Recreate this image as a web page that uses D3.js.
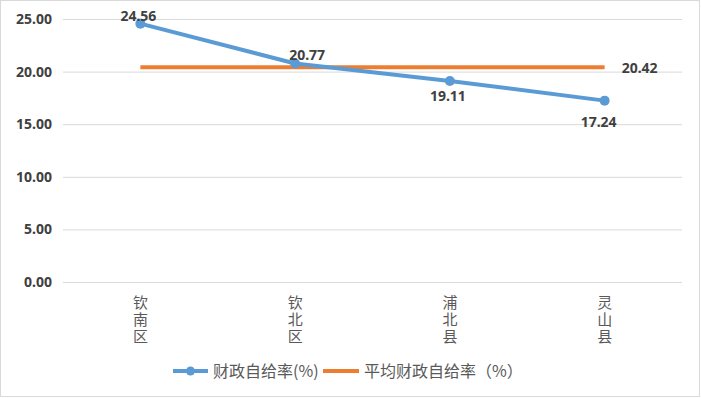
<!DOCTYPE html>
<html>
<head>
<meta charset="utf-8">
<script src="https://cdn.jsdelivr.net/npm/d3@7"></script>
<style>
  body { margin: 0; background: #fff; }
  text { font-family: "Noto Sans CJK SC", "Noto Sans", sans-serif; }
</style>
</head>
<body>
<div id="chart"></div>
<script>
// data
var categories = ["钦南区", "钦北区", "浦北县", "灵山县"];
var selfRate = [24.56, 20.77, 19.11, 17.24];
var avgRate = [20.42, 20.42, 20.42, 20.42];
var yTicks = [0, 5, 10, 15, 20, 25];
var seriesNames = ["财政自给率(%)", "平均财政自给率（%）"];

// label nudges (px) so the numbers sit like the original
var selfLabelOffset = [[-2, -8], [12, -8], [-2, 15], [-6, 21]];

var width = 701, height = 398;
var margin = {left: 63, right: 19, top: 19, bottom: 116};
var blue = "#5b9bd5", orange = "#ed7d31";
var numFont = "'Noto Sans', sans-serif";

var svg = d3.select("#chart").append("svg")
  .attr("width", width)
  .attr("height", height);

// outer frame
svg.append("rect")
  .attr("x", 0.5).attr("y", 0.5)
  .attr("width", width - 2).attr("height", height - 2)
  .attr("fill", "#fff")
  .attr("stroke", "#d9d9d9");

var x = d3.scaleBand()
  .domain(categories)
  .range([margin.left, width - margin.right]);

var y = d3.scaleLinear()
  .domain([0, 25])
  .range([282, margin.top]);

// gridlines + y labels
var yAxis = d3.axisLeft(y)
  .tickValues(yTicks)
  .tickSize(-(width - margin.right - margin.left))
  .tickFormat(d3.format(".2f"));

var gy = svg.append("g")
  .attr("transform", "translate(" + margin.left + ",0)")
  .call(yAxis);
gy.select(".domain").remove();
gy.selectAll(".tick line").attr("stroke", "#d9d9d9").attr("stroke-width", 1);
gy.selectAll(".tick text")
  .attr("x", -11)
  .attr("fill", "#404040")
  .style("font-size", "14px")
  .style("font-weight", "bold")
  .style("font-family", numFont);

// x labels, set vertically (one text per category)
svg.append("g").selectAll("text")
  .data(categories)
  .enter().append("text")
  .attr("x", function(d){ return x(d) + x.bandwidth() / 2; })
  .attr("y", 295)
  .style("writing-mode", "vertical-rl")
  .style("text-orientation", "upright")
  .style("letter-spacing", "2px")
  .attr("fill", "#595959")
  .style("font-size", "15px")
  .text(function(d){ return d; });

var cx = function(d, i){ return x(categories[i]) + x.bandwidth() / 2; };

// average line
svg.append("path")
  .datum(avgRate)
  .attr("fill", "none")
  .attr("stroke", orange)
  .attr("stroke-width", 4)
  .attr("d", d3.line().x(cx).y(function(d){ return y(d); }));

// self-sufficiency line
svg.append("path")
  .datum(selfRate)
  .attr("fill", "none")
  .attr("stroke", blue)
  .attr("stroke-width", 4)
  .attr("stroke-linejoin", "round")
  .attr("d", d3.line().x(cx).y(function(d){ return y(d); }));

svg.selectAll(".dot")
  .data(selfRate)
  .enter().append("circle")
  .attr("class", "dot")
  .attr("cx", cx)
  .attr("cy", function(d){ return y(d); })
  .attr("r", 5)
  .attr("fill", blue);

// value labels
svg.selectAll(".lbl")
  .data(selfRate)
  .enter().append("text")
  .attr("class", "lbl")
  .attr("x", function(d, i){ return cx(d, i) + selfLabelOffset[i][0]; })
  .attr("y", function(d, i){ return y(d) + selfLabelOffset[i][1]; })
  .attr("dy", "0.35em")
  .attr("text-anchor", "middle")
  .attr("fill", "#404040")
  .style("font-size", "14px")
  .style("font-weight", "bold")
  .style("font-family", numFont)
  .text(function(d){ return d.toFixed(2); });

var lastAvg = avgRate.length - 1;
svg.append("text")
  .attr("x", cx(avgRate[lastAvg], lastAvg) + 35)
  .attr("y", y(avgRate[lastAvg]) + 1)
  .attr("dy", "0.35em")
  .attr("text-anchor", "middle")
  .attr("fill", "#404040")
  .style("font-size", "14px")
  .style("font-weight", "bold")
  .style("font-family", numFont)
  .text(avgRate[lastAvg].toFixed(2));

// legend
var legend = svg.append("g").attr("transform", "translate(0,371)");
var lg1 = legend.append("g").attr("transform", "translate(173,0)");
lg1.append("line").attr("x1", 0).attr("x2", 35).attr("stroke", blue).attr("stroke-width", 4);
lg1.append("circle").attr("cx", 17.5).attr("r", 4.5).attr("fill", blue);
lg1.append("text").attr("x", 40).attr("dy", "0.35em")
  .attr("fill", "#595959").style("font-size", "16px").text(seriesNames[0]);

var lg2 = legend.append("g").attr("transform", "translate(323,0)");
lg2.append("line").attr("x1", 0).attr("x2", 36).attr("stroke", orange).attr("stroke-width", 4);
lg2.append("text").attr("x", 41).attr("dy", "0.35em")
  .attr("fill", "#595959").style("font-size", "16px").text(seriesNames[1]);
</script>
</body>
</html>
